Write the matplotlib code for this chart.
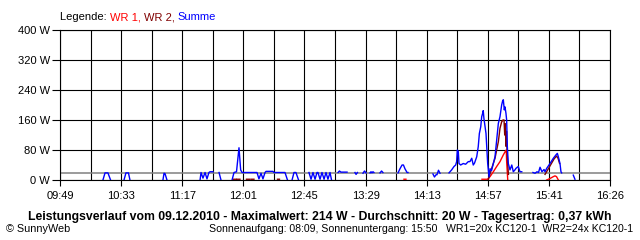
import numpy as np
import matplotlib.pyplot as plt

plt.rcParams['font.family'] = ['Liberation Sans', 'DejaVu Sans']

nan = np.nan

# time in minutes after midnight, power in W (nan = no data)
summe_t = [620.0, 621.5, 623.6, 625.5, nan,
           635.2, 636.6, 638.4, 639.5, nan,
           663.3, 664.1, 664.8, 666.2, nan,
           690.1, 690.8, 692.2, 693.7, 695.1, 696.5, 697.3, 699.4, nan,
           703.8, 705.2, nan,
           713.2, 714.6, 716.4, 717.3, 718.2, 718.9, 719.4, 720.4, 731.2, 732.6,
           734.1, 735.5, 737.0, 737.7, 742.7, 743.5, 751.4, 753.2, nan,
           756.5, 757.9, 759.3, 761.2, nan,
           768.7, 770.2, 771.6, 773.1, 774.5, 775.2, 776.7, 778.1, 779.6, 781.0,
           782.4, 783.9, 785.0, nan,
           789.7, 790.7, 791.8, 796.2, nan,
           801.9, 802.7, 803.7, nan,
           807.7, 808.8, 809.9, nan,
           812.8, 813.5, 814.2, 814.9, 815.6, nan,
           820.0, 821.1, 822.1, nan,
           833.0, 834.4, 835.9, 836.9, 838.0, 839.5, 840.2, nan,
           858.2, 859.3, 860.4, 861.1, 862.2, 863.3, nan,
           869.8, 871.7, 873.4, 874.6, 875.3, 875.8, 876.5, 877.0, 878.2, 880.1,
           881.8, 883.7, 884.9, 886.2, 887.3, 888.2, 889.8, 890.9, 891.7, 892.7,
           893.4, 894.1, 894.5, 895.0, 895.8, 896.5, 897.0, 897.7, 898.7, 899.4,
           900.5, 901.5, 903.0, 904.2, 905.4, 906.6, 907.8, 908.5, 909.0, 909.7,
           910.2, 910.9, 911.4, 911.9, 912.6, 913.8, 915.1, 916.2, 917.4, 918.1,
           919.8, 921.0, 922.3, nan,
           930.4, 931.9, 933.3, 934.4, 935.5, 936.9, 938.4, 939.1, 940.3, 942.7,
           945.1, 947.0, 948.0, 948.7, 949.9, 950.6, 951.1, nan,
           959.5, 960.7]
summe_w = [0, 19, 19, 0, nan,
           0, 19, 19, 0, nan,
           0, 18, 17, 0, nan,
           0, 20, 5, 20, 3, 20, 22, 22, nan,
           20, 0, nan,
           0, 20, 22, 53, 86, 53, 27, 20, 20, 3,
           18, 3, 20, 23, 23, 20, 20, 0, nan,
           0, 20, 20, 0, nan,
           20, 2, 20, 2, 20, 20, 2, 20, 2, 20,
           2, 20, 0, nan,
           20, 24, 21, 21, nan,
           20, 15, 20, nan,
           18, 24, 19, nan,
           19, 22, 19, 22, 20, nan,
           19, 24, 20, nan,
           19, 30, 40, 40, 30, 20, 20, nan,
           16, 8, 14, 14, 26, 18, nan,
           19, 27, 36, 40, 49, 80, 76, 44, 40, 44,
           42, 49, 49, 58, 40, 45, 62, 89, 124, 142,
           169, 178, 185, 164, 142, 124, 89, 44, 8, 30,
           25, 40, 62, 107, 151, 169, 200, 211, 214, 187,
           195, 178, 160, 89, 44, 27, 40, 22, 27, 31,
           36, 22, 22, nan,
           20, 18, 22, 20, 34, 22, 28, 22, 31, 44,
           58, 67, 71, 62, 44, 22, 19, nan,
           13, 2]

wr1_t = [837.3, 838.7, nan,
         893.6, 897.6, 899.4, 901.8, 904.2, 906.6, 909.0, 910.7, 911.1, 911.4, 912.2, nan,
         940.3, 942.7, 945.1, 946.3, 947.4, 948.7]
wr1_w = [2, 2, nan,
         2, 2, 9, 22, 36, 49, 67, 78, 80, 49, 0, nan,
         0, 4, 9, 11, 9, 0]

wr2_t = [713.9, 716.0, nan, 716.8, 718.9, nan, 723.6, 725.8, nan,
         726.9, 729.0, nan, 746.0, 747.4, nan,
         898.2, 900.6, 903.0, 905.4, 906.6, 907.8, 908.7, 909.5, 910.0, 910.4,
         910.9, 911.3, 911.6, 912.2, 912.7, nan,
         939.1, 941.2, 943.4, 945.6, 947.4, 948.5, 949.6]
wr2_w = [2, 2, nan, 2, 2, nan, 2, 2, nan,
         2, 2, nan, 2, 2, nan,
         2, 31, 58, 102, 138, 155, 160, 160, 120, 150,
         90, 130, 85, 40, 15, nan,
         15, 28, 42, 56, 64, 58, 44]

avg_w = 20
t_start, t_end = 589, 986          # 09:49 .. 16:26
x_labels = ['09:49', '10:33', '11:17', '12:01', '12:45',
            '13:29', '14:13', '14:57', '15:41', '16:26']
y_ticks = [0, 80, 160, 240, 320, 400]

legend_parts = ['Legende: ', 'WR 1, ', 'WR 2, ', 'Summe']
legend_colors = ['black', '#ff0000', '#800000', '#0000ff']

title = ('Leistungsverlauf vom 09.12.2010 - Maximalwert: 214 W - '
         'Durchschnitt: 20 W - Tagesertrag: 0,37 kWh')
footer_left = '\u00a9 SunnyWeb'
footer_right = ('Sonnenaufgang: 08:09, Sonnenuntergang: 15:50   '
                'WR1=20x KC120-1  WR2=24x KC120-1')

fig = plt.figure(figsize=(6.4, 2.4), dpi=100)
ax = fig.add_axes([60 / 640, 60 / 240, 550 / 640, 150 / 240])

ax.axhline(avg_w, color='#808080', lw=1.1, zorder=2)
ax.plot(wr1_t, wr1_w, color='#ff0000', lw=1.0, zorder=3)
ax.plot(wr2_t, wr2_w, color='#800000', lw=1.0, zorder=4)
ax.plot(summe_t, summe_w, color='#0000ff', lw=1.0, zorder=5)

ax.set_xlim(t_start, t_end)
ax.set_ylim(0, 400)

major = np.linspace(t_start, t_end, len(x_labels))
minor = (major[:-1] + major[1:]) / 2
ax.set_xticks(major)
ax.set_xticklabels(x_labels)
ax.set_xticks(minor, minor=True)
ax.set_yticks(y_ticks)
ax.set_yticklabels([f'{v} W' for v in y_ticks])

ax.grid(which='both', color='black', lw=0.8, zorder=1)
ax.tick_params(axis='x', which='major', length=4.3, width=0.8, pad=3.5, labelsize=8)
ax.tick_params(axis='x', which='minor', length=0)
ax.tick_params(axis='y', length=5.8, width=0.8, pad=1.5, labelsize=8)
for s in ax.spines.values():
    s.set_linewidth(0.8)
ax.set_axisbelow(True)

renderer = fig.canvas.get_renderer()
x = 60
for s, c in zip(legend_parts, legend_colors):
    t = fig.text(x / 640, 1 - 17 / 240, s, color=c, ha='left', va='center', fontsize=8)
    x = t.get_window_extent(renderer).x1

fig.text(0.5, 1 - 217 / 240, title, ha='center', va='center',
         fontweight='bold', fontsize=8.8)
fig.text(6 / 640, 1 - 229 / 240, footer_left, ha='left', va='center', fontsize=7.8)
fig.text(633 / 640, 1 - 229 / 240, footer_right, ha='right', va='center', fontsize=7.6)

fig.savefig('out.png', dpi=100)
